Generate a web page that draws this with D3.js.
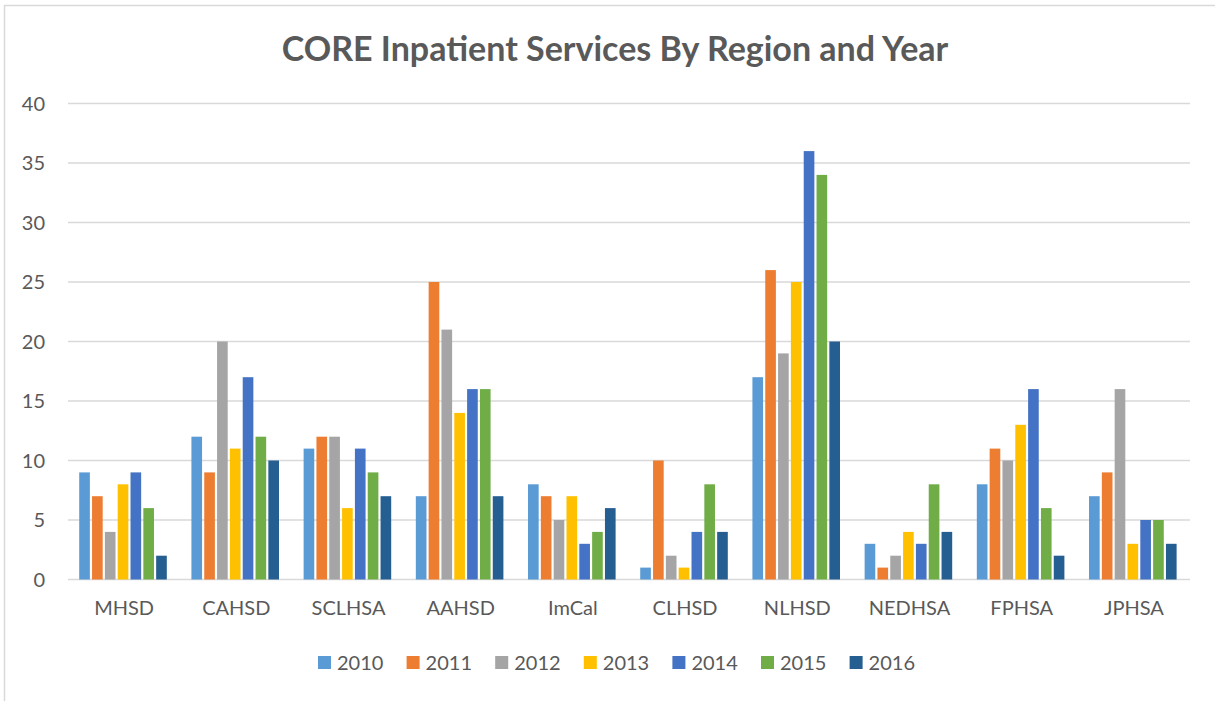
<!DOCTYPE html>
<html>
<head>
<meta charset="utf-8">
<script src="https://cdn.jsdelivr.net/npm/d3@7"></script>
<style>
  html, body { margin: 0; padding: 0; background: #fff; overflow: hidden; }
  svg { display: block; }
  text { font-family: Lato, "Open Sans", sans-serif; fill: #595959; }
</style>
</head>
<body>
<div id="plot"></div>
<script>
// data
const regions = ["MHSD", "CAHSD", "SCLHSA", "AAHSD", "ImCal", "CLHSD", "NLHSD", "NEDHSA", "FPHSA", "JPHSA"];
const years = ["2010", "2011", "2012", "2013", "2014", "2015", "2016"];
const v2010 = [9, 12, 11, 7, 8, 1, 17, 3, 8, 7];
const v2011 = [7, 9, 12, 25, 7, 10, 26, 1, 11, 9];
const v2012 = [4, 20, 12, 21, 5, 2, 19, 2, 10, 16];
const v2013 = [8, 11, 6, 14, 7, 1, 25, 4, 13, 3];
const v2014 = [9, 17, 11, 16, 3, 4, 36, 3, 16, 5];
const v2015 = [6, 12, 9, 16, 4, 8, 34, 8, 6, 5];
const v2016 = [2, 10, 7, 7, 6, 4, 20, 4, 2, 3];
const yTicks = [0, 5, 10, 15, 20, 25, 30, 35, 40];
const colors = ["#5B9BD5", "#ED7D31", "#A5A5A5", "#FFC000", "#4472C4", "#70AD47", "#255E91"];

const series = [v2010, v2011, v2012, v2013, v2014, v2015, v2016];

const w = 1215, h = 701;
const margin = {top: 103.5, right: 25, bottom: 121.5, left: 68};
const innerWidth = w - margin.left - margin.right;
const innerHeight = h - margin.top - margin.bottom;

const root = d3.select("div#plot").append("svg")
  .attr("width", w)
  .attr("height", h);

// chart frame (only left and top edges visible)
root.append("line").attr("x1", 4.5).attr("x2", 4.5).attr("y1", 5).attr("y2", h)
  .attr("stroke", "#D9D9D9").attr("stroke-width", 1.5);
root.append("line").attr("x1", 4).attr("x2", w).attr("y1", 5.5).attr("y2", 5.5)
  .attr("stroke", "#D9D9D9").attr("stroke-width", 1.5);

root.append("text")
  .attr("x", 615)
  .attr("y", 61)
  .attr("text-anchor", "middle")
  .style("font-size", "34px")
  .style("font-weight", "bold")
  .text("CORE Inpatient Services By Region and Year");

const svg = root.append("g")
  .attr("transform", `translate(${margin.left}, ${margin.top})`);

const xScale = d3.scaleBand()
  .domain(regions)
  .range([0, innerWidth])
  .paddingInner(0.2)
  .paddingOuter(0.1);

const xInner = d3.scaleBand()
  .domain(years)
  .range([0, xScale.bandwidth()]);

const yScale = d3.scaleLinear()
  .domain([0, 40])
  .range([innerHeight, 0]);

// gridlines
svg.append("g")
  .selectAll("line")
  .data(yTicks)
  .enter().append("line")
    .attr("x1", 0)
    .attr("x2", innerWidth)
    .attr("y1", d => yScale(d))
    .attr("y2", d => yScale(d))
    .attr("stroke", "#D9D9D9")
    .attr("stroke-width", 1.5);

// y labels
svg.append("g")
  .attr("class", "yAxis")
  .selectAll("text")
  .data(yTicks)
  .enter().append("text")
    .attr("x", -23)
    .attr("y", d => yScale(d) + 7)
    .attr("text-anchor", "end")
    .style("font-size", "20px")
    .text(d => d);

// x labels
svg.append("g")
  .attr("class", "xAxis")
  .selectAll("text")
  .data(regions)
  .enter().append("text")
    .attr("x", d => xScale(d) + xScale.bandwidth() / 2)
    .attr("y", innerHeight + 35)
    .attr("text-anchor", "middle")
    .style("font-size", "20px")
    .text(d => d);

// bars
const barW = xInner.bandwidth() * 0.83;
const groups = svg.append("g")
  .selectAll("g")
  .data(regions)
  .enter().append("g")
    .attr("transform", d => `translate(${xScale(d)}, 0)`);

groups.selectAll("rect")
  .data((r, i) => years.map((y, j) => ({year: y, value: series[j][i], c: colors[j]})))
  .enter().append("rect")
    .attr("x", d => xInner(d.year))
    .attr("y", d => yScale(d.value))
    .attr("width", barW)
    .attr("height", d => innerHeight - yScale(d.value))
    .attr("fill", d => d.c);

// legend
const legend = root.append("g")
  .attr("transform", "translate(318, 663)");
const item = legend.selectAll("g")
  .data(years)
  .enter().append("g")
    .attr("transform", (d, i) => `translate(${i * 88.6}, 0)`);
item.append("rect")
  .attr("x", 0).attr("y", -7)
  .attr("width", 13).attr("height", 13)
  .attr("fill", (d, i) => colors[i]);
item.append("text")
  .attr("x", 19).attr("y", 7)
  .style("font-size", "20px")
  .text(d => d);
</script>
</body>
</html>
